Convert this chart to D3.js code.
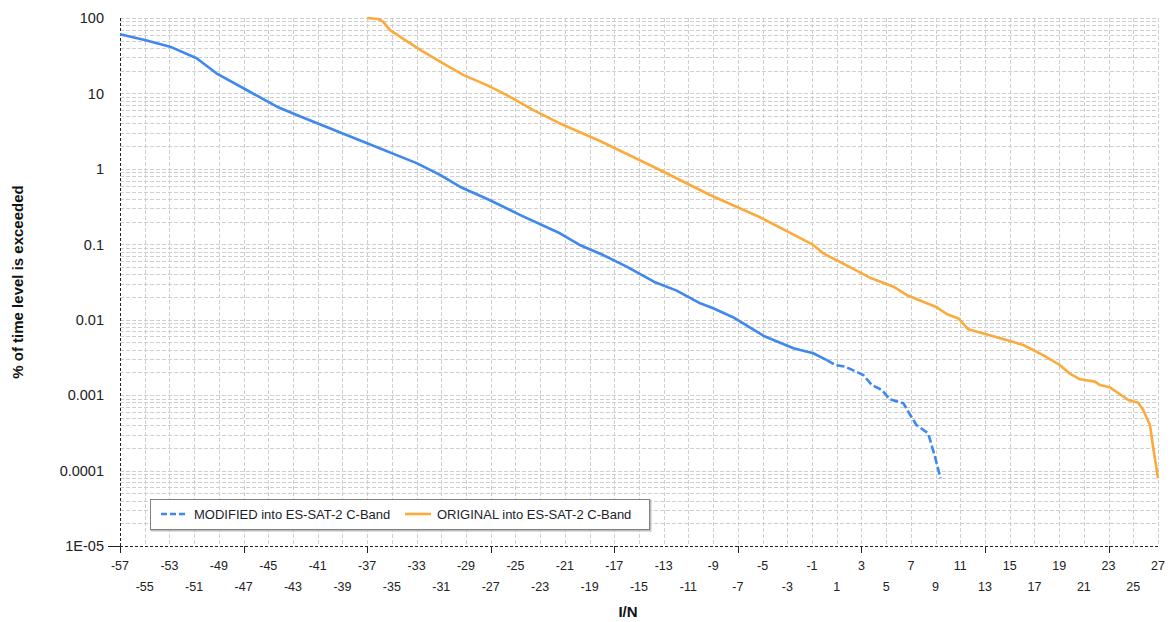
<!DOCTYPE html>
<html>
<head>
<meta charset="utf-8">
<script src="https://cdn.jsdelivr.net/npm/d3@7/dist/d3.min.js"></script>
<style>
  html, body { margin: 0; padding: 0; background: #ffffff; }
  svg { display: block; font-family: "Liberation Sans", Arial, sans-serif; }
</style>
</head>
<body>
<svg id="chart" width="1176" height="622"></svg>
<script>
// ---- data ----
const modifiedX = [-57, -55, -52.95, -50.8, -49.2, -46.75, -44.3, -42.4, -37.0, -33.0, -31.1, -29.5, -27.1, -24.6, -21.4, -19.8, -17.9, -16.0, -13.8, -11.95, -10.05, -9.0, -7.4, -4.9, -2.5, -0.9, 0.2, 0.9, 1.7, 3.15, 3.85, 4.65, 5.3, 6.4, 6.95, 7.45, 8.4, 8.95, 9.4];
const modifiedP = [60.8, 51, 41.7, 29.3, 18.5, 11.1, 6.67, 4.95, 2.18, 1.19, 0.83, 0.58, 0.386, 0.244, 0.140, 0.098, 0.072, 0.0505, 0.0319, 0.0243, 0.0165, 0.0142, 0.0108, 0.00608, 0.00418, 0.00359, 0.00292, 0.00251, 0.00238, 0.00185, 0.00136, 0.00117, 0.00088, 0.00078, 0.000546, 0.000402, 0.000312, 0.000153, 0.0000791];

const originalX = [-37.0, -36.1, -35.7, -35.15, -34.35, -32.7, -31.1, -29.2, -27.3, -25.7, -23.55, -21.4, -18.2, -13.3, -9.25, -6.85, -5.2, -0.9, -0.1, 2.0, 3.8, 5.6, 6.65, 9.1, 9.9, 10.85, 11.65, 13.95, 16.1, 17.7, 19.05, 19.9, 20.3, 20.7, 21.9, 22.3, 23.1, 23.8, 24.6, 25.4, 25.8, 26.35, 26.6, 27.0];
const originalP = [100, 97, 89, 69, 56.5, 37.7, 26.4, 17.5, 12.9, 9.5, 6.0, 4.0, 2.36, 0.966, 0.45, 0.30, 0.228, 0.098, 0.076, 0.0505, 0.0354, 0.0274, 0.0213, 0.0146, 0.0119, 0.0104, 0.00747, 0.00585, 0.00462, 0.0034, 0.00251, 0.00191, 0.00176, 0.00162, 0.00151, 0.00136, 0.00127, 0.00106, 0.000863, 0.000794, 0.000635, 0.000402, 0.000207, 0.0000791];

const seriesNames = ["MODIFIED into ES-SAT-2 C-Band", "ORIGINAL into ES-SAT-2 C-Band"];
const yTickValues = [100, 10, 1, 0.1, 0.01, 0.001, 0.0001, 0.00001];
const yTickLabels = ["100", "10", "1", "0.1", "0.01", "0.001", "0.0001", "1E-05"];
const xTickValues = d3.range(-57, 28, 2);
const xMajorTicks = d3.range(-57, 28, 10);
const xTitle = "I/N";
const yTitle = "% of time level is exceeded";

// ---- layout ----
const blue = "#3f88ee", orange = "#fbab3c";
const svg = d3.select("#chart");
const x = d3.scaleLinear().domain([-57, 27]).range([120, 1158]);
const y = d3.scaleLog().domain([1e-5, 100]).range([546, 18]);

// gridlines
const grid = svg.append("g").attr("stroke", "#cfcfcf").attr("stroke-width", 1).attr("stroke-dasharray", "4,2");
const yMinor = [];
for (let e = -5; e <= 2; e++) for (let m = 1; m <= 9; m++) {
  const v = m * Math.pow(10, e);
  if (v > 1e-5 * 1.0001 && v <= 100 * 1.0001) yMinor.push(v);
}
grid.selectAll("line.h").data(yMinor).join("line")
  .attr("x1", x(-57)).attr("x2", x(27))
  .attr("y1", d => Math.round(y(d)) + 0.5).attr("y2", d => Math.round(y(d)) + 0.5);
grid.selectAll("line.v").data(xTickValues.filter(d => d > -57)).join("line")
  .attr("y1", y(100)).attr("y2", y(1e-5))
  .attr("x1", d => Math.round(x(d)) + 0.5).attr("x2", d => Math.round(x(d)) + 0.5);

// axes
const axes = svg.append("g").attr("stroke", "#222").attr("stroke-width", 1);
axes.append("line").attr("x1", 120.5).attr("x2", 120.5).attr("y1", y(100)).attr("y2", y(1e-5))
  .attr("stroke-dasharray", "3,2");
axes.append("line").attr("x1", x(-57)).attr("x2", x(27)).attr("y1", 546.5).attr("y2", 546.5)
  .attr("stroke-dasharray", "3,2");
axes.selectAll("line.xt").data(xMajorTicks).join("line")
  .attr("x1", d => Math.round(x(d)) + 0.5).attr("x2", d => Math.round(x(d)) + 0.5)
  .attr("y1", 546).attr("y2", 553);
axes.append("line").attr("x1", 108).attr("x2", 120).attr("y1", 546.5).attr("y2", 546.5);

// y tick labels
svg.append("g").selectAll("text").data(yTickValues).join("text")
  .attr("x", 104).attr("y", d => y(d)).attr("dy", "0.36em")
  .attr("text-anchor", "end").attr("font-size", 14.5).attr("fill", "#222")
  .text((d, i) => yTickLabels[i]);

// x tick labels
svg.append("g").selectAll("text").data(xTickValues).join("text")
  .attr("x", d => x(d)).attr("y", (d, i) => i % 2 === 0 ? 570 : 591)
  .attr("text-anchor", "middle").attr("font-size", 12.5).attr("fill", "#222")
  .text(d => d);

// titles
svg.append("text").attr("x", 628).attr("y", 617).attr("text-anchor", "middle")
  .attr("font-size", 15).attr("font-weight", "bold").attr("fill", "#111").text(xTitle);
svg.append("text").attr("transform", "translate(23,282) rotate(-90)").attr("text-anchor", "middle")
  .attr("font-size", 15).attr("font-weight", "bold").attr("fill", "#111").text(yTitle);

// lines
const line = d3.line().x(d => x(d[0])).y(d => y(d[1]));
const modified = modifiedX.map((v, i) => [v, modifiedP[i]]);
const original = originalX.map((v, i) => [v, originalP[i]]);

svg.append("path").datum(original).attr("d", line)
  .attr("fill", "none").attr("stroke", orange).attr("stroke-width", 2.6).attr("stroke-linejoin", "round");

const splitAt = modified.findIndex(d => d[0] >= 0.2);
svg.append("path").datum(modified.slice(0, splitAt + 1)).attr("d", line)
  .attr("fill", "none").attr("stroke", blue).attr("stroke-width", 2.6).attr("stroke-linejoin", "round");
svg.append("path").datum(modified.slice(splitAt)).attr("d", line)
  .attr("fill", "none").attr("stroke", blue).attr("stroke-width", 2.6).attr("stroke-dasharray", "8,3");

// legend
const lg = svg.append("g");
lg.append("rect").attr("x", 151.5).attr("y", 500.5).attr("width", 499).attr("height", 30)
  .attr("fill", "none").attr("stroke", "#bdbdbd").attr("stroke-width", 2);
lg.append("rect").attr("x", 150.5).attr("y", 499.5).attr("width", 499).attr("height", 30)
  .attr("fill", "#fff").attr("stroke", "#808080").attr("stroke-width", 1);
lg.append("line").attr("x1", 161).attr("x2", 187).attr("y1", 514).attr("y2", 514)
  .attr("stroke", blue).attr("stroke-width", 2.6).attr("stroke-dasharray", "6,3");
lg.append("line").attr("x1", 405).attr("x2", 431).attr("y1", 514).attr("y2", 514)
  .attr("stroke", orange).attr("stroke-width", 2.6);
lg.append("text").attr("x", 194).attr("y", 519).attr("font-size", 13).attr("fill", "#1c1c2c").text(seriesNames[0]);
lg.append("text").attr("x", 437).attr("y", 519).attr("font-size", 13).attr("fill", "#1c1c2c").text(seriesNames[1]);
</script>
</body>
</html>
